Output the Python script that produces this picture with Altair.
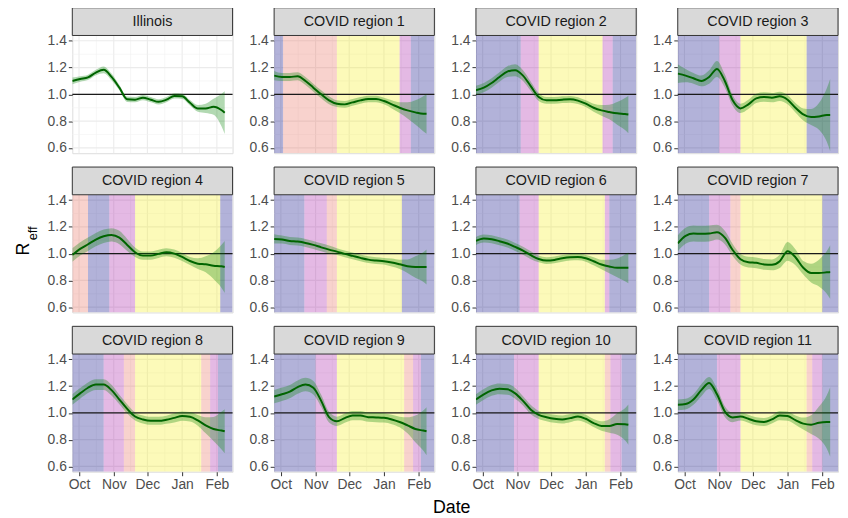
import altair as alt
import pandas as pd

FONT = "Liberation Sans"

regions = ["Illinois"] + [f"COVID region {i}" for i in range(1, 12)]

dates = ["2020-09-25", "2020-10-02", "2020-10-09", "2020-10-16", "2020-10-23",
         "2020-10-30", "2020-11-06", "2020-11-13", "2020-11-20", "2020-11-27",
         "2020-12-04", "2020-12-11", "2020-12-18", "2020-12-25", "2021-01-01",
         "2021-01-08", "2021-01-15", "2021-01-22", "2021-01-29", "2021-02-05",
         "2021-02-08"]

reff = {
    "Illinois":        [1.10, 1.115, 1.127, 1.163, 1.183, 1.13, 1.05, 0.963, 0.96, 0.975, 0.96, 0.944, 0.96, 0.988, 0.985, 0.937, 0.895, 0.895, 0.907, 0.883, 0.863],
    "COVID region 1":  [1.14, 1.13, 1.13, 1.135, 1.10, 1.05, 1.0, 0.955, 0.93, 0.925, 0.94, 0.955, 0.965, 0.965, 0.95, 0.925, 0.90, 0.88, 0.865, 0.855, 0.855],
    "COVID region 2":  [1.03, 1.05, 1.085, 1.13, 1.17, 1.18, 1.14, 1.06, 0.98, 0.955, 0.955, 0.96, 0.963, 0.953, 0.93, 0.90, 0.88, 0.868, 0.858, 0.853, 0.85],
    "COVID region 3":  [1.155, 1.14, 1.12, 1.10, 1.13, 1.19, 1.10, 0.955, 0.895, 0.925, 0.97, 0.98, 0.975, 0.985, 0.96, 0.90, 0.85, 0.83, 0.835, 0.845, 0.845],
    "COVID region 4":  [0.99, 1.035, 1.07, 1.105, 1.13, 1.14, 1.12, 1.065, 1.01, 0.985, 0.985, 0.998, 1.01, 1.0, 0.975, 0.945, 0.925, 0.92, 0.91, 0.905, 0.90],
    "COVID region 5":  [1.11, 1.105, 1.095, 1.09, 1.08, 1.065, 1.047, 1.03, 1.015, 0.998, 0.983, 0.968, 0.955, 0.948, 0.943, 0.933, 0.92, 0.906, 0.90, 0.90, 0.90],
    "COVID region 6":  [1.095, 1.113, 1.108, 1.093, 1.076, 1.05, 1.022, 0.988, 0.96, 0.948, 0.953, 0.965, 0.973, 0.975, 0.965, 0.943, 0.919, 0.904, 0.894, 0.894, 0.894],
    "COVID region 7":  [1.076, 1.133, 1.15, 1.148, 1.15, 1.16, 1.12, 1.027, 0.958, 0.936, 0.931, 0.919, 0.916, 0.943, 1.017, 0.973, 0.894, 0.855, 0.855, 0.86, 0.862],
    "COVID region 8":  [1.10, 1.146, 1.188, 1.212, 1.212, 1.17, 1.10, 1.03, 0.973, 0.951, 0.941, 0.941, 0.949, 0.963, 0.976, 0.971, 0.944, 0.907, 0.88, 0.868, 0.863],
    "COVID region 9":  [1.122, 1.139, 1.159, 1.193, 1.212, 1.188, 1.09, 0.968, 0.937, 0.961, 0.98, 0.98, 0.968, 0.966, 0.963, 0.951, 0.932, 0.907, 0.88, 0.868, 0.863],
    "COVID region 10": [1.10, 1.139, 1.168, 1.18, 1.176, 1.146, 1.09, 1.024, 0.985, 0.968, 0.956, 0.951, 0.961, 0.973, 0.956, 0.924, 0.902, 0.902, 0.917, 0.915, 0.912],
    "COVID region 11": [1.061, 1.066, 1.10, 1.17, 1.224, 1.139, 1.01, 0.966, 0.973, 0.956, 0.937, 0.932, 0.951, 0.98, 0.976, 0.946, 0.92, 0.912, 0.927, 0.932, 0.932],
}

halfwidth = {
    "Illinois":        [0.025, 0.02, 0.02, 0.02, 0.025, 0.025, 0.02, 0.02, 0.02, 0.02, 0.02, 0.02, 0.02, 0.02, 0.02, 0.02, 0.025, 0.035, 0.06, 0.12, 0.16],
    "COVID region 1":  [0.035, 0.03, 0.03, 0.03, 0.03, 0.03, 0.03, 0.03, 0.025, 0.025, 0.025, 0.025, 0.025, 0.025, 0.025, 0.03, 0.04, 0.06, 0.09, 0.13, 0.15],
    "COVID region 2":  [0.035, 0.035, 0.035, 0.035, 0.04, 0.045, 0.04, 0.035, 0.03, 0.025, 0.025, 0.025, 0.025, 0.025, 0.025, 0.03, 0.04, 0.055, 0.085, 0.12, 0.14],
    "COVID region 3":  [0.07, 0.05, 0.04, 0.04, 0.05, 0.06, 0.05, 0.04, 0.035, 0.035, 0.035, 0.035, 0.035, 0.035, 0.035, 0.035, 0.045, 0.06, 0.1, 0.2, 0.27],
    "COVID region 4":  [0.05, 0.05, 0.05, 0.05, 0.05, 0.05, 0.05, 0.045, 0.035, 0.03, 0.03, 0.03, 0.03, 0.03, 0.03, 0.03, 0.04, 0.06, 0.1, 0.16, 0.195],
    "COVID region 5":  [0.035, 0.03, 0.03, 0.03, 0.03, 0.03, 0.03, 0.03, 0.025, 0.025, 0.025, 0.025, 0.025, 0.025, 0.025, 0.03, 0.035, 0.05, 0.08, 0.11, 0.13],
    "COVID region 6":  [0.03, 0.03, 0.03, 0.03, 0.03, 0.03, 0.03, 0.03, 0.025, 0.025, 0.025, 0.025, 0.025, 0.025, 0.025, 0.03, 0.035, 0.05, 0.07, 0.1, 0.115],
    "COVID region 7":  [0.06, 0.06, 0.06, 0.06, 0.06, 0.055, 0.05, 0.045, 0.04, 0.04, 0.04, 0.04, 0.04, 0.05, 0.07, 0.06, 0.05, 0.07, 0.1, 0.16, 0.2],
    "COVID region 8":  [0.04, 0.04, 0.04, 0.04, 0.04, 0.04, 0.035, 0.035, 0.03, 0.03, 0.03, 0.03, 0.03, 0.035, 0.035, 0.035, 0.04, 0.06, 0.09, 0.14, 0.165],
    "COVID region 9":  [0.05, 0.05, 0.05, 0.05, 0.05, 0.05, 0.045, 0.04, 0.035, 0.035, 0.035, 0.035, 0.035, 0.035, 0.035, 0.035, 0.04, 0.06, 0.1, 0.15, 0.18],
    "COVID region 10": [0.04, 0.04, 0.04, 0.04, 0.04, 0.04, 0.035, 0.035, 0.03, 0.03, 0.03, 0.03, 0.03, 0.03, 0.03, 0.03, 0.035, 0.05, 0.08, 0.12, 0.15],
    "COVID region 11": [0.04, 0.04, 0.04, 0.045, 0.045, 0.045, 0.04, 0.035, 0.03, 0.03, 0.03, 0.03, 0.03, 0.035, 0.035, 0.035, 0.045, 0.07, 0.12, 0.2, 0.26],
}

tier_names = ["Phase 4", "Tier 1", "Tier 2", "Tier 3"]
tier_colors = ["#000080", "#A516A5", "#E86958", "#F5EE16"]

band_tiers = {
    "COVID region 1":  ["Phase 4", "Tier 2", "Tier 3", "Tier 1", "Phase 4"],
    "COVID region 2":  ["Phase 4", "Tier 1", "Tier 3", "Tier 1", "Phase 4"],
    "COVID region 3":  ["Phase 4", "Tier 1", "Tier 3", "Phase 4"],
    "COVID region 4":  ["Tier 2", "Phase 4", "Tier 1", "Tier 3", "Phase 4"],
    "COVID region 5":  ["Phase 4", "Tier 1", "Tier 2", "Tier 3", "Phase 4"],
    "COVID region 6":  ["Phase 4", "Tier 1", "Tier 3", "Tier 1", "Phase 4"],
    "COVID region 7":  ["Phase 4", "Tier 1", "Tier 2", "Tier 3", "Phase 4"],
    "COVID region 8":  ["Phase 4", "Tier 1", "Tier 2", "Tier 3", "Tier 2", "Tier 1", "Phase 4"],
    "COVID region 9":  ["Phase 4", "Tier 1", "Tier 3", "Tier 2", "Tier 1", "Phase 4"],
    "COVID region 10": ["Phase 4", "Tier 1", "Tier 3", "Tier 2", "Tier 1", "Phase 4"],
    "COVID region 11": ["Phase 4", "Tier 1", "Tier 3", "Tier 2", "Tier 1", "Phase 4"],
}
band_starts = {
    "COVID region 1":  ["2020-09-25", "2020-10-03", "2020-11-20", "2021-01-15", "2021-01-25"],
    "COVID region 2":  ["2020-09-25", "2020-11-04", "2020-11-20", "2021-01-16", "2021-01-25"],
    "COVID region 3":  ["2020-09-25", "2020-11-01", "2020-11-20", "2021-01-18"],
    "COVID region 4":  ["2020-09-25", "2020-10-09", "2020-10-28", "2020-11-20", "2021-02-04"],
    "COVID region 5":  ["2020-09-25", "2020-10-22", "2020-11-11", "2020-11-20", "2021-01-17"],
    "COVID region 6":  ["2020-09-25", "2020-11-03", "2020-11-20", "2021-01-18", "2021-01-22"],
    "COVID region 7":  ["2020-09-25", "2020-10-23", "2020-11-11", "2020-11-20", "2021-02-01"],
    "COVID region 8":  ["2020-09-25", "2020-10-23", "2020-11-10", "2020-11-20", "2021-01-18", "2021-01-26", "2021-02-02"],
    "COVID region 9":  ["2020-09-25", "2020-11-01", "2020-11-20", "2021-01-19", "2021-01-27", "2021-02-03"],
    "COVID region 10": ["2020-09-25", "2020-10-29", "2020-11-20", "2021-01-18", "2021-01-23", "2021-02-02"],
    "COVID region 11": ["2020-09-25", "2020-10-30", "2020-11-20", "2021-01-18", "2021-01-23", "2021-02-01"],
}
band_last_end = "2021-02-15"

x_major = ["2020-10-01", "2020-11-01", "2020-12-01", "2021-01-01", "2021-02-01"]
x_minor = ["2020-10-16T12:00:00", "2020-11-16T00:00:00", "2020-12-16T12:00:00", "2021-01-16T12:00:00"]
y_major = [0.6, 0.8, 1.0, 1.2, 1.4]
y_minor = [0.7, 0.9, 1.1, 1.3]
ref_level = [1.0]


def local(d):
    return d if "T" in d else d + "T00:00:00"


PW, PH, SH = 162, 119, 28
H = PH + SH

xscale = alt.Scale(domain=[alt.DateTime(year=2020, month=9, date=25),
                           alt.DateTime(year=2021, month=2, date=15)])
yscale = alt.Scale(domain=[0.56, 1.44], range=[H, SH], nice=False, zero=False)

x_axis_bottom = alt.Axis(
    values=[alt.DateTime(year=int(d[:4]), month=int(d[5:7]), date=1) for d in x_major],
    format="%b", labelFontSize=14, labelColor="#4D4D4D", labelFont=FONT,
    tickColor="#333333", tickSize=4, labelPadding=2, domain=False, grid=False,
    title=None)
y_axis = alt.Axis(values=y_major, format=".1f", labelFontSize=14, labelColor="#4D4D4D",
                  labelFont=FONT, tickColor="#333333", tickSize=4, labelPadding=2,
                  domain=False, grid=False, title=None)


def make_cell(name, bottom):
    def X(field):
        if bottom:
            return alt.X(field, scale=xscale, axis=x_axis_bottom)
        return alt.X(field, scale=xscale, axis=None)

    def Y(field):
        return alt.Y(field, scale=yscale, axis=y_axis)

    vminor = alt.Chart(pd.DataFrame({"d": x_minor})).mark_rule(
        color="#F2F2F2", strokeWidth=0.6).encode(
        x=X("d:T"), y=alt.value(SH), y2=alt.value(H))
    vmajor = alt.Chart(pd.DataFrame({"d": [local(d) for d in x_major]})).mark_rule(
        color="#EBEBEB", strokeWidth=1.1).encode(
        x=X("d:T"), y=alt.value(SH), y2=alt.value(H))
    hminor = alt.Chart(pd.DataFrame({"v": y_minor})).mark_rule(
        color="#F2F2F2", strokeWidth=0.6).encode(y=Y("v:Q"))
    hmajor = alt.Chart(pd.DataFrame({"v": y_major})).mark_rule(
        color="#EBEBEB", strokeWidth=1.1).encode(y=Y("v:Q"))
    layers = [vminor, vmajor, hminor, hmajor]

    if name in band_tiers:
        starts = band_starts[name]
        ends = starts[1:] + [band_last_end]
        bdf = pd.DataFrame({"tier": band_tiers[name],
                            "start": [local(s) for s in starts],
                            "end": [local(e) for e in ends]})
        bands = alt.Chart(bdf).mark_rect(opacity=0.3, clip=True).encode(
            x=X("start:T"), x2="end:T", y=alt.value(SH), y2=alt.value(H),
            color=alt.Color("tier:N", scale=alt.Scale(domain=tier_names, range=tier_colors),
                            legend=None))
        layers.append(bands)

    hline = alt.Chart(pd.DataFrame({"v": ref_level})).mark_rule(
        color="#1A1A1A", strokeWidth=1.1).encode(y=Y("v:Q"))

    sdf = pd.DataFrame({"date": [local(d) for d in dates],
                        "reff": reff[name],
                        "hw": halfwidth[name]})
    base = alt.Chart(sdf).transform_calculate(
        lo="datum.reff - datum.hw", hi="datum.reff + datum.hw")
    ribbon = base.mark_area(color="#008000", opacity=0.3, interpolate="monotone",
                            clip=True).encode(x=X("date:T"), y=Y("lo:Q"), y2="hi:Q")
    line = base.mark_line(color="#006400", strokeWidth=2, interpolate="monotone",
                          clip=True).encode(x=X("date:T"), y=Y("reff:Q"))

    ndf = pd.DataFrame({"name": [name]})
    strip_bg = alt.Chart(ndf).mark_rect(fill="#D9D9D9", stroke="#333333", strokeWidth=1).encode(
        x=alt.value(0), x2=alt.value(PW), y=alt.value(0), y2=alt.value(SH))
    strip_txt = alt.Chart(ndf).mark_text(
        fontSize=14.5, color="#1A1A1A", font=FONT, align="center", baseline="middle"
    ).encode(text="name:N", x=alt.value(PW / 2), y=alt.value(SH / 2 + 0.5))

    layers += [hline, ribbon, line, strip_bg, strip_txt]
    return alt.layer(*layers).properties(width=PW, height=H)


cells = [make_cell(name, i >= 8) for i, name in enumerate(regions)]

grid = alt.concat(
    *cells, columns=4, spacing={"row": 10, "column": 14},
    align={"row": "each", "column": "all"})

ylab_r = alt.Chart(pd.DataFrame({"t": ["R"]})).mark_text(
    angle=270, fontSize=18, font=FONT, color="#000000", align="center", baseline="middle"
).encode(text="t:N", x=alt.value(15.5), y=alt.value(244))
ylab_eff = alt.Chart(pd.DataFrame({"t": ["eff"]})).mark_text(
    angle=270, fontSize=13, font=FONT, color="#000000", align="center", baseline="middle"
).encode(text="t:N", x=alt.value(24.5), y=alt.value(228))
ylab = alt.layer(ylab_r, ylab_eff).properties(
    width=30, height=H * 3 + 20, view=alt.ViewBackground(stroke="transparent"))

xlab = alt.Chart(pd.DataFrame({"t": ["Date"]})).mark_text(
    fontSize=18, font=FONT, color="#000000", align="center", baseline="middle"
).encode(text="t:N", x=alt.value(447.5), y=alt.value(15)).properties(
    width=830, height=24, view=alt.ViewBackground(stroke="transparent"))

top = alt.hconcat(ylab, grid, spacing=6)

chart = alt.vconcat(top, xlab, spacing=0).properties(
    padding={"top": -4, "left": 0, "right": 0, "bottom": 0},
    background="#FFFFFF").configure_view(stroke="#333333", strokeWidth=1).configure(
    font=FONT)

chart.save("out.html", embed_options={"renderer": "svg", "actions": False})
